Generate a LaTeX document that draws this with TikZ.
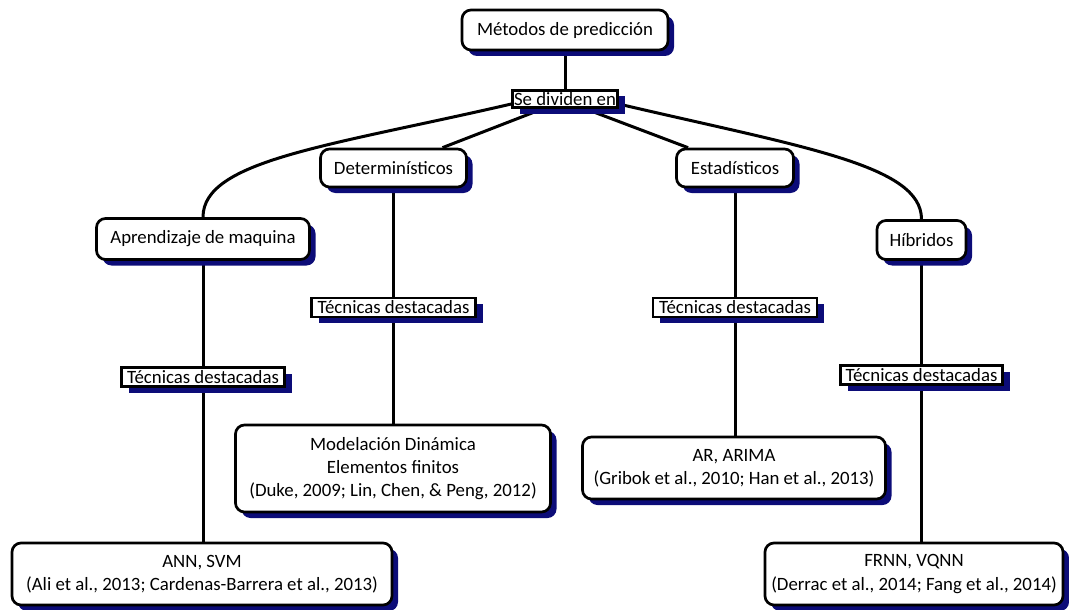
\documentclass[tikz,border=0pt]{standalone}
\usepackage{fontspec}
\setmainfont{Carlito}
\usetikzlibrary{shadows,backgrounds,calc}
\definecolor{shadowblue}{RGB}{12,12,120}
\begin{document}
\begin{tikzpicture}[x=1pt,y=-1pt,
  txt/.style={font=\fontsize{18.8}{23.3}\selectfont, text=black},
  box/.style={txt, draw=black, line width=2.7pt, rounded corners=9pt, fill=white,
    drop shadow={shadow xshift=6pt, shadow yshift=-6pt, fill=shadowblue, opacity=1},
    align=center, inner sep=0pt},
  lab/.style={txt, draw=black, line width=2.4pt, fill=white,
    drop shadow={shadow xshift=7pt, shadow yshift=-6pt, fill=shadowblue, opacity=1},
    inner sep=0pt},
  conn/.style={line width=3pt, draw=black}]
\useasboundingbox (0,0) rectangle (1069,610);
\node[box, minimum width=206pt, minimum height=40pt] (top) at (565,30) {Métodos de predicción};
\node[lab, minimum width=105pt, minimum height=17pt] (div) at (565,99) {Se dividen en};
\node[box, minimum width=146pt, minimum height=38pt] (det) at (393.5,168) {Determinísticos};
\node[box, minimum width=117pt, minimum height=38pt] (est) at (735,168) {Estadísticos};
\node[box, minimum width=213pt, minimum height=41pt] (ml) at (203,239) {Aprendizaje de maquina};
\node[box, minimum width=89pt, minimum height=39pt] (hib) at (921.5,240) {Híbridos};
\node[lab, minimum width=164pt, minimum height=19pt] (tdd) at (393.5,307.5) {Técnicas destacadas};
\node[lab, minimum width=164pt, minimum height=19pt] (tde) at (735,307.5) {Técnicas destacadas};
\node[lab, minimum width=163pt, minimum height=19pt] (tdm) at (203,377) {Técnicas destacadas};
\node[lab, minimum width=162pt, minimum height=19pt] (tdh) at (921.5,375) {Técnicas destacadas};
\node[box, minimum width=315pt, minimum height=87pt] (mod) at (393,468.5) {Modelación Dinámica\\Elementos finitos\\(Duke, 2009; Lin, Chen, \& Peng, 2012)};
\node[box, minimum width=303pt, minimum height=62pt] (ar) at (734,468) {AR, ARIMA\\(Gribok et al., 2010; Han et al., 2013)};
\node[box, minimum width=380pt, minimum height=62pt] (ann) at (202,574) {ANN, SVM\\(Ali et al., 2013; Cardenas-Barrera et al., 2013)};
\node[box, minimum width=298pt, minimum height=62pt] (fr) at (914,574) {FRNN, VQNN\\(Derrac et al., 2014; Fang et al., 2014)};
\begin{scope}[on background layer]
  \draw[conn] (top) -- (div);
  \draw[conn] ([yshift=-5pt]div.west) .. controls (330,146) and (203,160) .. (ml.north);
  \draw[conn] ([yshift=-5pt]div.east) .. controls (802,147) and (921.5,165) .. (hib.north);
  \draw[conn] ([xshift=-22pt]div.south) -- ([xshift=49pt]det.north);
  \draw[conn] ([xshift=20pt]div.south) -- ([xshift=-47pt]est.north);
  \draw[conn] (det) -- (tdd);
  \draw[conn] (tdd.south) -- (tdd.south |- mod.north);
  \draw[conn] (est) -- (tde);
  \draw[conn] (tde.south) -- (tde.south |- ar.north);
  \draw[conn] (ml) -- (tdm);
  \draw[conn] (tdm.south) -- (tdm.south |- ann.north);
  \draw[conn] (hib) -- (tdh);
  \draw[conn] (tdh.south) -- (tdh.south |- fr.north);
\end{scope}
\end{tikzpicture}
\end{document}
